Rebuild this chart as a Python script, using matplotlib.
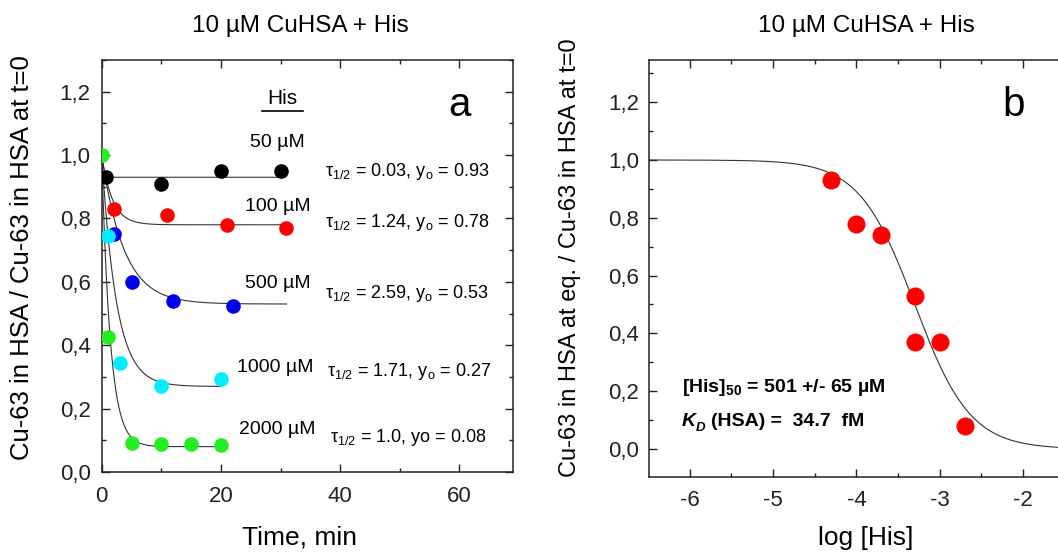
import numpy as np
import matplotlib
matplotlib.use("Agg")
import matplotlib.pyplot as plt
from matplotlib.ticker import MultipleLocator, FuncFormatter

plt.rcParams['font.family'] = ['Liberation Sans', 'DejaVu Sans']
plt.rcParams['mathtext.fontset'] = 'custom'
plt.rcParams['mathtext.rm'] = 'Liberation Sans'
plt.rcParams['mathtext.it'] = 'Liberation Sans:italic'
plt.rcParams['mathtext.bf'] = 'Liberation Sans:bold'
plt.rcParams['axes.unicode_minus'] = False

# ---------------- data: panel a (kinetics) ----------------
conc_labels = ['50 µM', '100 µM', '500 µM', '1000 µM', '2000 µM']
colors = ['#000000', '#ff0000', '#0000ee', '#00eeff', '#22ee22']
t_50 = [0.8, 10, 20, 30]
y_50 = [0.93, 0.91, 0.95, 0.95]
t_100 = [2, 11, 21, 31]
y_100 = [0.83, 0.81, 0.78, 0.77]
t_500 = [2, 5, 12, 22]
y_500 = [0.75, 0.60, 0.54, 0.525]
t_1000 = [1, 3, 10, 20]
y_1000 = [0.745, 0.343, 0.272, 0.292]
t_2000 = [0, 1, 5, 10, 15, 20]
y_2000 = [1.0, 0.427, 0.09, 0.088, 0.088, 0.085]
tau_half = [0.03, 1.24, 2.59, 1.71, 1.0]
y_inf = [0.93, 0.78, 0.53, 0.27, 0.08]
fit_end = [30, 31, 31, 20, 20]
fit_texts = ['τ$_{\\mathdefault{1/2}}$ = 0.03, y$_{\\mathdefault{o}}$ = 0.93',
             'τ$_{\\mathdefault{1/2}}$ = 1.24, y$_{\\mathdefault{o}}$ = 0.78',
             'τ$_{\\mathdefault{1/2}}$ = 2.59, y$_{\\mathdefault{o}}$ = 0.53',
             'τ$_{\\mathdefault{1/2}}$ = 1.71, y$_{\\mathdefault{o}}$ = 0.27',
             'τ$_{\\mathdefault{1/2}}$ = 1.0, yo = 0.08']

# ---------------- data: panel b (equilibrium) ----------------
log_his = [-4.30, -4.00, -3.70, -3.30, -3.30, -3.00, -2.70]
frac_eq = [0.93, 0.78, 0.74, 0.53, 0.37, 0.37, 0.08]
log_his50 = -3.30   # [His]50 = 501 uM
hill_n = 1.3

W, H = 1058, 553
fig = plt.figure(figsize=(W / 100, H / 100), dpi=100)

def fx(px):
    return px / W

def fy(py):
    return 1 - py / H

def comma(v, pos):
    return ('%.1f' % v).replace('.', ',')

tick_kw = dict(direction='in', top=True, right=True, colors='#222222')

# ---------------- panel a ----------------
axa = fig.add_axes([fx(101.7), fy(472), (513 - 101.7) / W, (472 - 60) / H])
axa.set_xlim(0, 69)
axa.set_ylim(0, 1.3)
series_t = [t_50, t_100, t_500, t_1000, t_2000]
series_y = [y_50, y_100, y_500, y_1000, y_2000]
for i in range(5):
    tt = np.concatenate([np.linspace(0, 1, 400), np.linspace(1, fit_end[i], 400)])
    yy = y_inf[i] + (1 - y_inf[i]) * np.exp(-np.log(2) * tt / tau_half[i])
    axa.plot(tt, yy, color='#333333', lw=0.8, zorder=2)
for i in range(5):
    axa.plot(series_t[i], series_y[i], 'o', color=colors[i], ms=10.5, mec='none', zorder=3 + i)

axa.xaxis.set_major_locator(MultipleLocator(20))
axa.xaxis.set_minor_locator(MultipleLocator(10))
axa.yaxis.set_major_locator(MultipleLocator(0.2))
axa.yaxis.set_minor_locator(MultipleLocator(0.1))
axa.yaxis.set_major_formatter(FuncFormatter(comma))
axa.tick_params(which='both', labelsize=16, width=1.0, **tick_kw)
axa.tick_params(which='major', length=5.5)
axa.tick_params(which='minor', length=3)
axa.tick_params(axis='x', pad=10)
axa.tick_params(axis='y', pad=8)
for s in axa.spines.values():
    s.set_linewidth(1.1)
    s.set_color('#222222')

label_pos = [(277, 143), (278, 206), (278, 283), (275, 367), (277, 429)]
fit_pos = [(325, 172), (325, 222), (325, 293), (327, 371), (330, 438)]
for i in range(5):
    fig.text(fx(label_pos[i][0]), fy(label_pos[i][1]), conc_labels[i], fontsize=14,
             ha='center', va='center')
    fig.text(fx(fit_pos[i][0]), fy(fit_pos[i][1]), fit_texts[i], fontsize=13,
             ha='left', va='center')
fig.text(fx(282), fy(99), 'His', fontsize=15, ha='center', va='center')
fig.add_artist(plt.Line2D([fx(262), fx(303)], [fy(111), fy(111)], color='black', lw=1.2))
fig.text(fx(460), fy(105), 'a', fontsize=29, ha='center', va='center')

fig.text(fx(300), fy(26), '10 µM CuHSA + His', fontsize=17.5, ha='center', va='center')
fig.text(fx(300), fy(538), 'Time, min', fontsize=19, ha='center', va='center')
fig.text(fx(22), fy(258), 'Cu-63 in HSA / Cu-63 in HSA at t=0', fontsize=18.5,
         ha='center', va='center', rotation=90)

# ---------------- panel b ----------------
xl0, xl1 = -6.49, -1.3
axb = fig.add_axes([fx(649), fy(477), (xl1 - xl0) * 83.3 / W, (477 - 60) / H])
axb.set_xlim(xl0, xl1)
axb.set_ylim(-0.097, 1.346)
xs = np.linspace(xl0, xl1, 600)
axb.plot(xs, 1 / (1 + 10 ** ((xs - log_his50) * hill_n)), color='#333333', lw=0.8, zorder=2)
axb.plot(log_his, frac_eq, 'o', color='#ff0000', ms=13, mec='none', zorder=3)
axb.xaxis.set_major_locator(MultipleLocator(1))
axb.xaxis.set_minor_locator(MultipleLocator(0.5))
axb.yaxis.set_major_locator(MultipleLocator(0.2))
axb.yaxis.set_minor_locator(MultipleLocator(0.1))
axb.yaxis.set_major_formatter(FuncFormatter(comma))
axb.xaxis.set_major_formatter(FuncFormatter(lambda v, p: '%d' % round(v)))
axb.tick_params(which='both', labelsize=16, width=1.0, **tick_kw)
axb.tick_params(which='major', length=5.5)
axb.tick_params(which='minor', length=3)
axb.tick_params(axis='x', pad=9)
axb.tick_params(axis='y', pad=7)
for s in axb.spines.values():
    s.set_linewidth(1.1)
    s.set_color('#222222')

fig.text(fx(682), fy(388), '[His]$_{\\mathdefault{50}}$ = 501 +/- 65 µM', fontsize=14,
         fontweight='bold', ha='left', va='center')
fig.text(fx(682), fy(421), 'K', fontsize=14, fontweight='bold', fontstyle='italic',
         ha='left', va='center')
fig.text(fx(696), fy(428), 'D', fontsize=9.5, fontweight='bold', fontstyle='italic',
         ha='left', va='center')
fig.text(fx(711), fy(421), '(HSA) =  34.7  fM', fontsize=14, fontweight='bold',
         ha='left', va='center')
fig.text(fx(1014), fy(105), 'b', fontsize=29, ha='center', va='center')

fig.text(fx(866), fy(26), '10 µM CuHSA + His', fontsize=17.5, ha='center', va='center')
fig.text(fx(866), fy(538), 'log [His]', fontsize=19, ha='center', va='center')
fig.text(fx(570), fy(258), 'Cu-63 in HSA at eq. / Cu-63 in HSA at t=0', fontsize=17,
         ha='center', va='center', rotation=90)

fig.savefig('out.png', dpi=100)
